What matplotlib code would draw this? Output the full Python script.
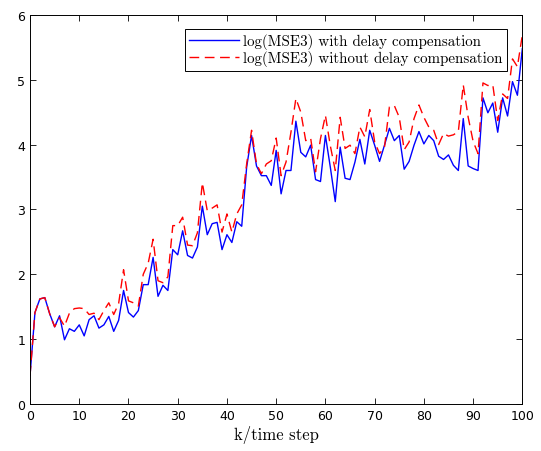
import matplotlib
matplotlib.use("Agg")
import matplotlib.pyplot as plt
import numpy as np

# time steps 0..100
k = np.arange(0, 101)

mse_with = [
    0.44, 1.41, 1.62, 1.64, 1.39, 1.19, 1.36, 0.99, 1.16, 1.12,
    1.22, 1.05, 1.30, 1.36, 1.17, 1.22, 1.35, 1.12, 1.29, 1.75,
    1.41, 1.34, 1.44, 1.84, 1.84, 2.26, 1.66, 1.83, 1.75, 2.38,
    2.30, 2.67, 2.29, 2.25, 2.42, 3.05, 2.61, 2.78, 2.80, 2.38,
    2.61, 2.49, 2.81, 2.74, 3.65, 4.14, 3.67, 3.52, 3.52, 3.37,
    3.91, 3.24, 3.60, 3.60, 4.36, 3.88, 3.81, 3.99, 3.46, 3.43,
    4.14, 3.65, 3.12, 3.96, 3.48, 3.46, 3.73, 4.08, 3.70, 4.22,
    3.99, 3.74, 3.99, 4.25, 4.06, 4.14, 3.62, 3.74, 3.99, 4.20,
    4.01, 4.14, 4.06, 3.82, 3.77, 3.84, 3.68, 3.60, 4.40, 3.67,
    3.63, 3.60, 4.72, 4.49, 4.64, 4.19, 4.72, 4.44, 4.97, 4.76,
    5.48,
]

mse_without = [
    0.44, 1.41, 1.62, 1.64, 1.39, 1.19, 1.33, 1.20, 1.40, 1.47,
    1.48, 1.47, 1.38, 1.40, 1.30, 1.44, 1.56, 1.38, 1.55, 2.07,
    1.59, 1.56, 1.51, 2.00, 2.17, 2.54, 1.90, 1.87, 1.96, 2.75,
    2.75, 2.88, 2.45, 2.44, 2.64, 3.41, 2.98, 3.02, 3.07, 2.65,
    2.93, 2.65, 2.93, 3.07, 3.70, 4.22, 3.70, 3.55, 3.70, 3.75,
    4.10, 3.52, 3.73, 4.19, 4.71, 4.50, 4.06, 4.10, 3.58, 4.09,
    4.45, 3.98, 3.60, 4.42, 3.94, 3.99, 3.86, 4.27, 4.12, 4.54,
    4.04, 3.86, 3.96, 4.58, 4.60, 4.42, 3.92, 4.04, 4.40, 4.61,
    4.42, 4.27, 4.22, 4.00, 4.17, 4.13, 4.15, 4.20, 4.92, 4.42,
    4.05, 3.86, 4.95, 4.91, 4.92, 4.37, 4.78, 4.71, 5.32, 5.20,
    5.69,
]

fig = plt.figure(figsize=(5.41, 4.52), dpi=100)
ax = fig.add_axes([0.0555, 0.104, 0.91, 0.861])

ax.plot(k, mse_with, color=(0, 0, 1), linewidth=1.0,
        label='log(MSE3) with delay compensation')
ax.plot(k, mse_without, color=(1, 0, 0), linewidth=1.0, linestyle=(0, (7, 4)),
        label='log(MSE3) without delay compensation')

ax.set_xlim(0, 100)
ax.set_ylim(0, 6)
ax.set_xticks(range(0, 101, 10))
ax.set_yticks(range(0, 7))
ax.tick_params(direction='in', top=True, right=True, labelsize=9, length=4, width=0.6)
for s in ax.spines.values():
    s.set_linewidth(0.7)

ax.set_xlabel('k/time step', family='cmr10', fontsize=12, labelpad=2)

leg = ax.legend(loc='upper right', bbox_to_anchor=(0.969, 0.964), borderaxespad=0,
                fancybox=False, edgecolor='black', framealpha=1,
                prop={'family': 'cmr10', 'size': 10.8},
                handlelength=3.3, borderpad=0.3, labelspacing=0.05, handletextpad=0.3)
leg.get_frame().set_linewidth(0.7)

fig.savefig('out.png', dpi=100)
